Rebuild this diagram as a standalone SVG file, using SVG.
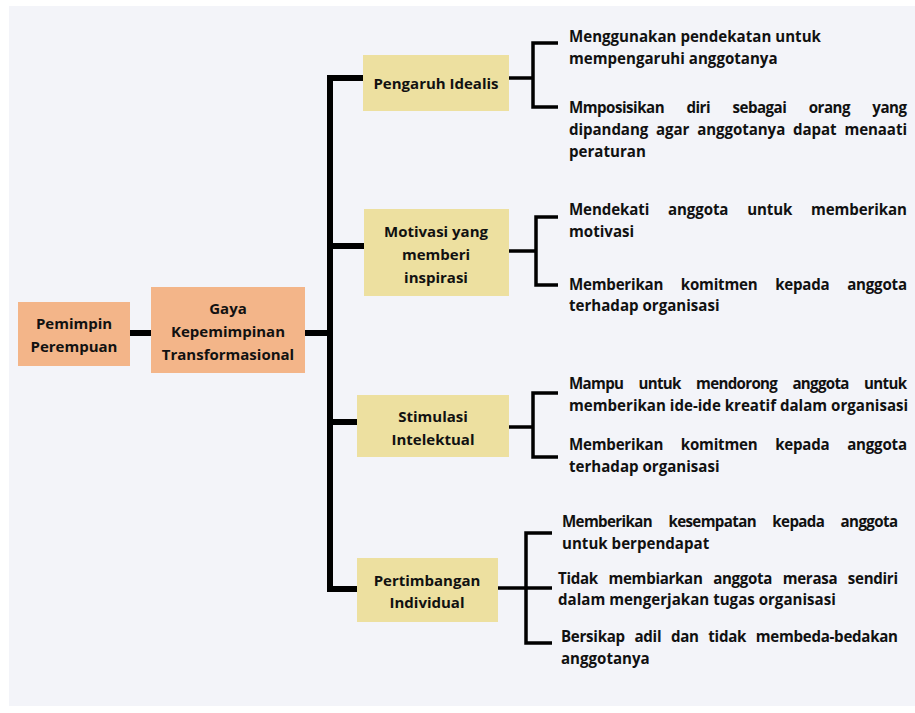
<svg xmlns="http://www.w3.org/2000/svg" width="915" height="713" viewBox="0 0 915 713">
<style>
.bg{fill:#f3f4f9}
.or{fill:#f3b589}
.ye{fill:#ede0a0}
.lbl{font-family:"Open Sans","Liberation Sans",sans-serif;font-weight:700;font-size:15px;fill:#111;text-anchor:middle;dominant-baseline:central}
.t{font-family:"Open Sans","Liberation Sans",sans-serif;font-weight:700;font-size:15.1px;fill:#111;dominant-baseline:central}
.thick{fill:none;stroke:#000;stroke-width:6}
.thin{fill:none;stroke:#000;stroke-width:3.5}
</style>
<rect x="0" y="0" width="915" height="713" fill="#ffffff"/>
<rect class="bg" x="9" y="6" width="906" height="700"/>

<g id="connectors">
  <path class="thick" d="M130,333 H151"/>
  <path class="thick" d="M305,333 H330"/>
  <path class="thick" d="M363,78 H330 V589 H357"/>
  <path class="thick" d="M330,246 H364"/>
  <path class="thick" d="M330,422 H357"/>
  <path class="thin" d="M509,78 H533"/>
  <path class="thin" d="M558,43 H533 V107 H558"/>
  <path class="thin" d="M509,251 H536"/>
  <path class="thin" d="M558,217 H536 V285 H558"/>
  <path class="thin" d="M509,427 H533"/>
  <path class="thin" d="M558,393 H533 V457 H558"/>
  <path class="thin" d="M498,588 H552"/>
  <path class="thin" d="M552,533 H526 V643 H552"/>
</g>

<g id="n-pemimpin">
  <rect class="or" x="18" y="302" width="112" height="64"/>
  <text class="lbl" x="74" y="323">Pemimpin</text>
  <text class="lbl" x="74" y="346">Perempuan</text>
</g>
<g id="n-gaya">
  <rect class="or" x="151" y="287" width="154" height="86"/>
  <text class="lbl" x="228" y="308">Gaya</text>
  <text class="lbl" x="228" y="331">Kepemimpinan</text>
  <text class="lbl" x="228" y="354">Transformasional</text>
</g>
<g id="n-pengaruh">
  <rect class="ye" x="363" y="55" width="146" height="56"/>
  <text class="lbl" x="436" y="83">Pengaruh Idealis</text>
</g>
<g id="n-motivasi">
  <rect class="ye" x="364" y="209" width="145" height="87"/>
  <text class="lbl" x="436" y="231">Motivasi yang</text>
  <text class="lbl" x="436" y="254">memberi</text>
  <text class="lbl" x="436" y="277">inspirasi</text>
</g>
<g id="n-stimulasi">
  <rect class="ye" x="357" y="395" width="152" height="62"/>
  <text class="lbl" x="433" y="416">Stimulasi</text>
  <text class="lbl" x="433" y="439">Intelektual</text>
</g>
<g id="n-pertimbangan">
  <rect class="ye" x="357" y="558" width="141" height="64"/>
  <text class="lbl" x="427" y="580">Pertimbangan</text>
  <text class="lbl" x="427" y="602">Individual</text>
</g>

<g id="d-pengaruh-1">
  <text class="t" x="569" y="36">Menggunakan pendekatan untuk</text>
  <text class="t" x="569" y="58">mempengaruhi anggotanya</text>
</g>
<g id="d-pengaruh-2">
  <text class="t" x="569" y="107" word-spacing="19" textLength="338" lengthAdjust="spacing">Mmposisikan diri sebagai orang yang</text>
  <text class="t" x="569" y="129" word-spacing="4" textLength="338" lengthAdjust="spacing">dipandang agar anggotanya dapat menaati</text>
  <text class="t" x="569" y="151">peraturan</text>
</g>
<g id="d-motivasi-1">
  <text class="t" x="569" y="209" word-spacing="15" textLength="338" lengthAdjust="spacing">Mendekati anggota untuk memberikan</text>
  <text class="t" x="569" y="231">motivasi</text>
</g>
<g id="d-motivasi-2">
  <text class="t" x="569" y="284" word-spacing="14" textLength="338" lengthAdjust="spacing">Memberikan komitmen kepada anggota</text>
  <text class="t" x="569" y="305">terhadap organisasi</text>
</g>
<g id="d-stimulasi-1">
  <text class="t" x="569" y="383" word-spacing="12" textLength="338" lengthAdjust="spacing">Mampu untuk mendorong anggota untuk</text>
  <text class="t" x="569" y="405">memberikan ide-ide kreatif dalam organisasi</text>
</g>
<g id="d-stimulasi-2">
  <text class="t" x="569" y="444" word-spacing="14" textLength="338" lengthAdjust="spacing">Memberikan komitmen kepada anggota</text>
  <text class="t" x="569" y="466">terhadap organisasi</text>
</g>
<g id="d-pertimbangan-1">
  <text class="t" x="562" y="521" word-spacing="13" textLength="336" lengthAdjust="spacing">Memberikan kesempatan kepada anggota</text>
  <text class="t" x="562" y="543">untuk berpendapat</text>
</g>
<g id="d-pertimbangan-2">
  <text class="t" x="558" y="578" word-spacing="7" textLength="340" lengthAdjust="spacing">Tidak membiarkan anggota merasa sendiri</text>
  <text class="t" x="558" y="599">dalam mengerjakan tugas organisasi</text>
</g>
<g id="d-pertimbangan-3">
  <text class="t" x="561" y="636" word-spacing="6" textLength="337" lengthAdjust="spacing">Bersikap adil dan tidak membeda-bedakan</text>
  <text class="t" x="561" y="658">anggotanya</text>
</g>
</svg>
